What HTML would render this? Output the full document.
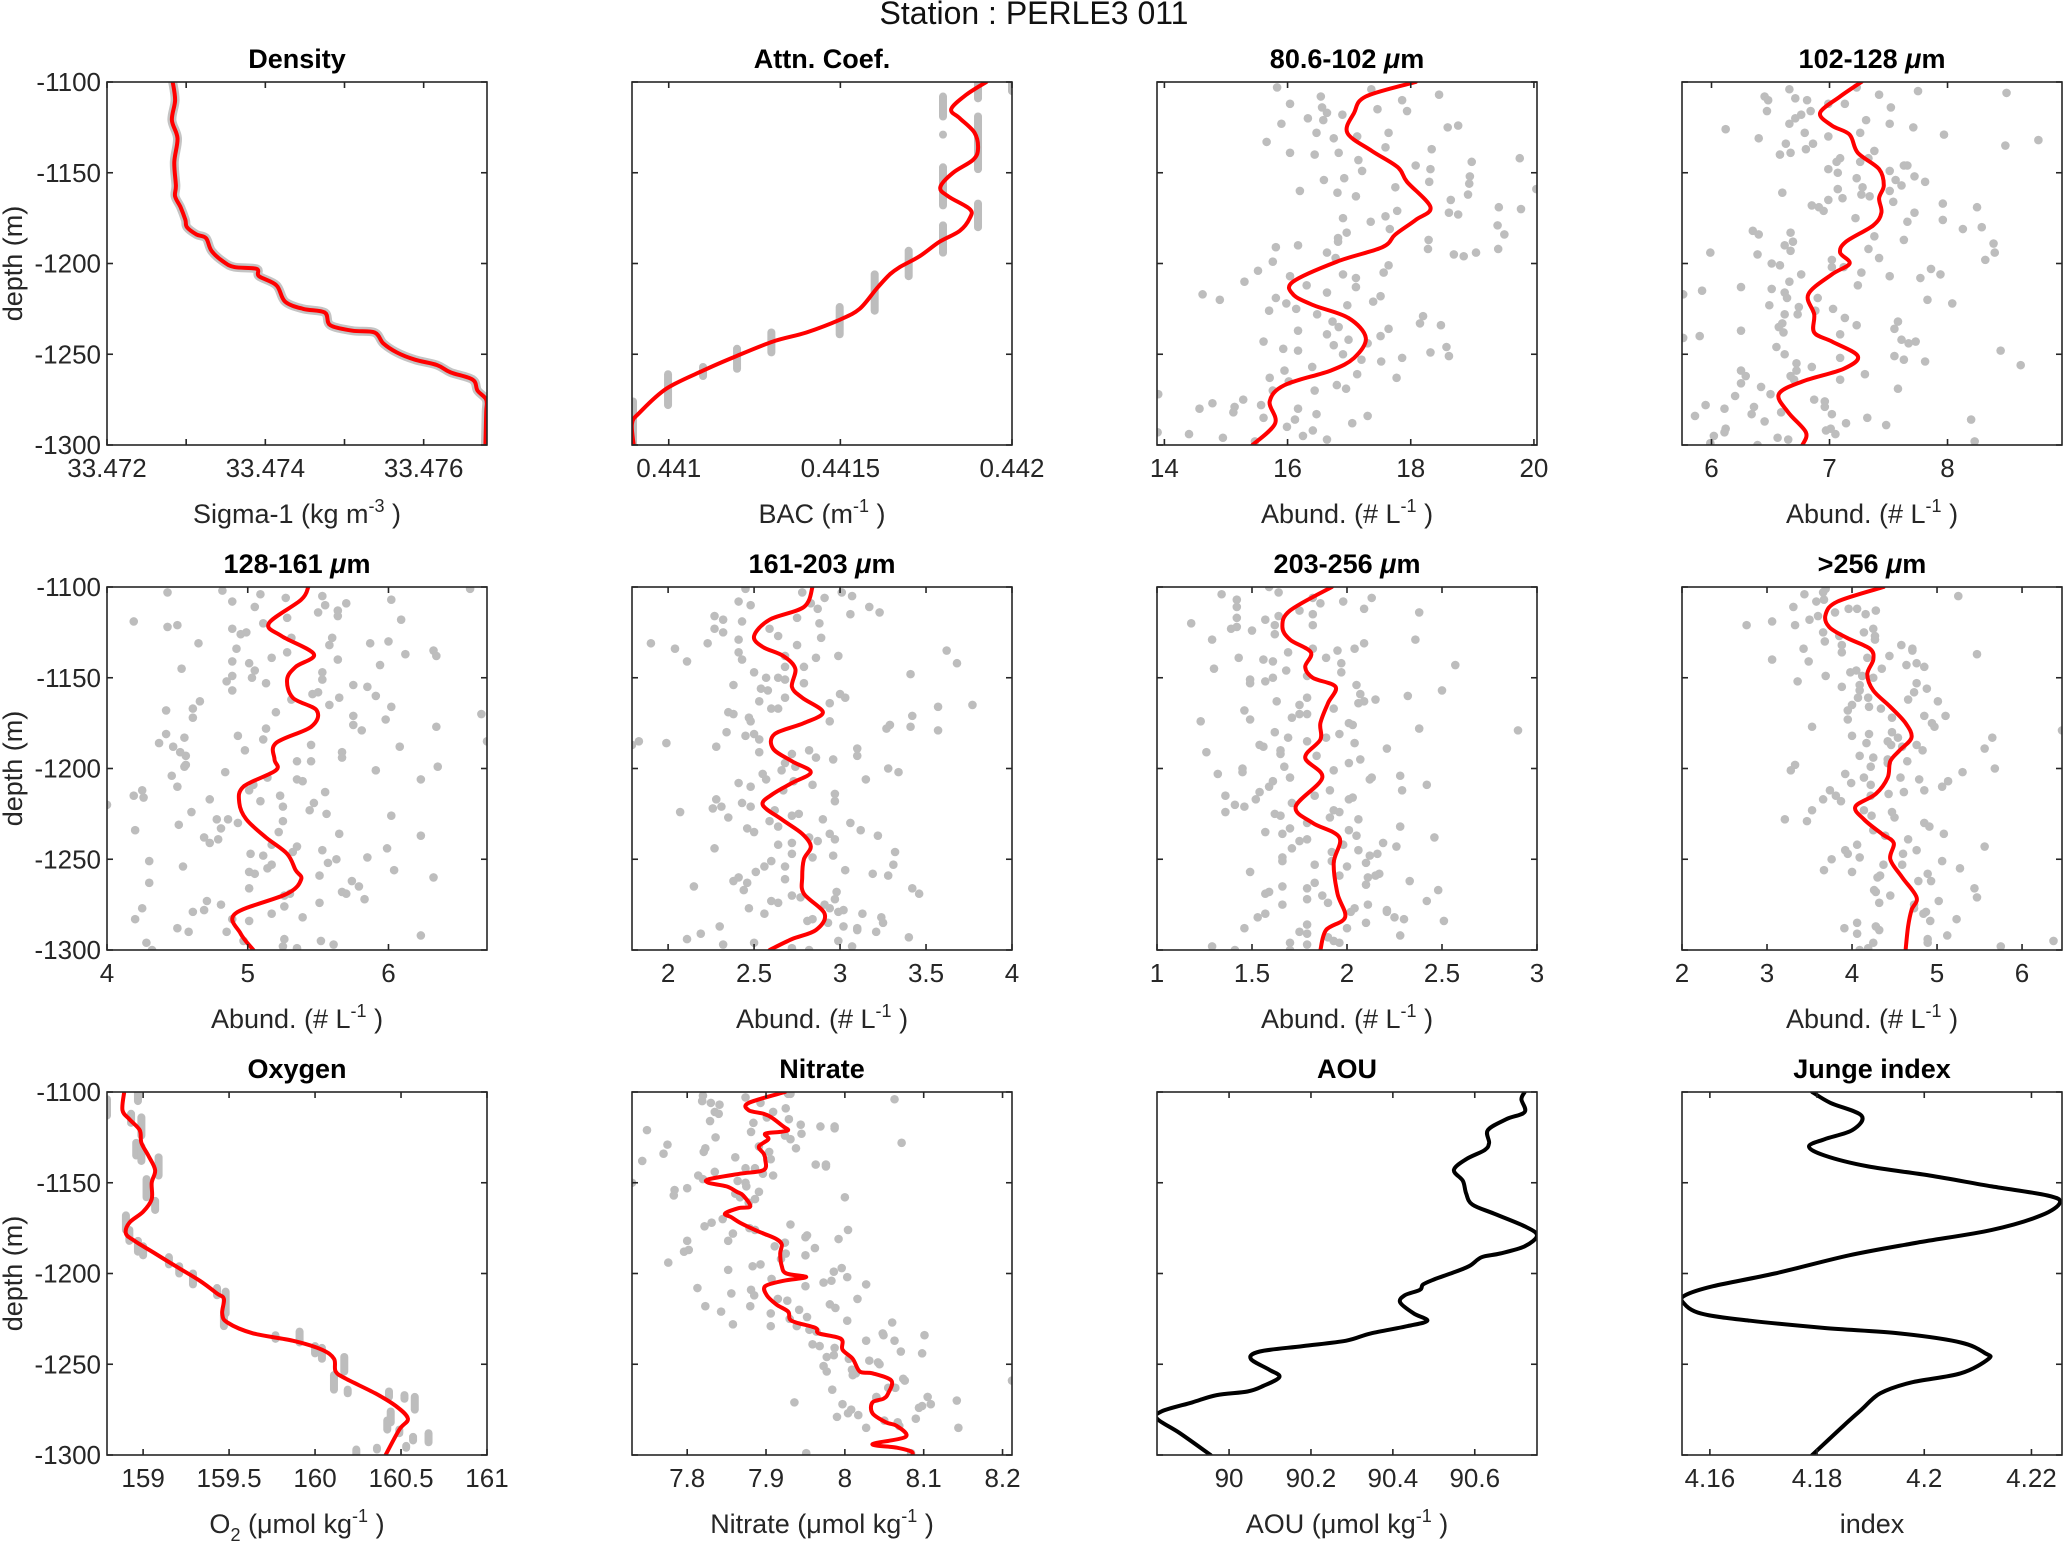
<!DOCTYPE html>
<html><head><meta charset="utf-8"><title>Station : PERLE3 011</title>
<style>html,body{margin:0;padding:0;background:#fff;}svg{display:block;font-family:"Liberation Sans",Arial,sans-serif;}</style>
</head><body>
<svg id="fig" width="2067" height="1547" viewBox="0 0 2067 1547" xmlns="http://www.w3.org/2000/svg">
<rect x="0" y="0" width="2067" height="1547" fill="#fff"/>
<text x="1034" y="24" font-size="32" text-anchor="middle" fill="#111">Station : PERLE3 011</text>
</svg>
<script>
// ---------- data ----------
const p1Depth=[-1100,-1110,-1121,-1131,-1144,-1157,-1163,-1169,-1176,-1180,-1184,-1186,-1193,-1199,-1202,-1203,-1207,-1212,-1221,-1225,-1227,-1234,-1237,-1238,-1244,-1249,-1253,-1256,-1260,-1264,-1270,-1275,-1282,-1300];
const p1Val=[33.47283,33.47286,33.47282,33.47289,33.47285,33.47287,33.47286,33.47293,33.47299,33.47301,33.47313,33.47325,33.47332,33.47347,33.47361,33.47389,33.47392,33.47414,33.47425,33.47448,33.47475,33.47482,33.47510,33.47538,33.47549,33.47566,33.47589,33.47617,33.47634,33.47662,33.47668,33.47679,33.47679,33.47678];

const p2Depth=[-1100,-1107,-1115,-1120,-1128,-1137,-1143,-1150,-1158,-1163,-1170,-1175,-1182,-1188,-1196,-1202,-1206,-1214,-1225,-1231,-1238,-1243,-1251,-1259,-1269,-1282,-1288,-1300];
const p2Val=[0.441925,0.441867,0.441823,0.441848,0.441891,0.441901,0.441886,0.441828,0.441791,0.441814,0.441877,0.441877,0.441848,0.441789,0.441731,0.441673,0.441644,0.441605,0.441556,0.441498,0.441401,0.441304,0.441197,0.441100,0.440993,0.440916,0.440893,0.440898];
const p2SegVal=[0.441901,0.442000,0.441799,0.441799,0.441901,0.441799,0.441901,0.441799,0.441699,0.441600,0.441498,0.441299,0.441199,0.441100,0.440998,0.440896];
const p2SegTop=[-1099,-1100,-1108,-1129,-1119,-1147,-1167,-1179,-1193,-1206,-1224,-1238,-1247,-1257,-1261,-1276];
const p2SegBot=[-1109,-1105,-1119,-1129,-1148,-1168,-1180,-1194,-1207,-1226,-1239,-1249,-1258,-1262,-1278,-1300];

const p3Depth=[-1100,-1108,-1117,-1128,-1138,-1147,-1155,-1169,-1176,-1184,-1191,-1199,-1210,-1217,-1223,-1230,-1241,-1252,-1259,-1267,-1276,-1288,-1300];
const p3Val=[18.08,17.27,17.08,16.97,17.37,17.79,17.94,18.32,18.08,17.75,17.54,16.80,16.09,16.09,16.42,16.99,17.27,17.08,16.70,15.95,15.71,15.80,15.43];
const p3DotV=[15.83,16.04,16.54,16.56,16.64,16.33,15.90,16.58,16.89,16.47,16.75,17.13,15.66,16.04,16.44,16.83,17.46,17.94,17.86,18.46,17.36,17.64,18.60,18.77,17.59,18.34,17.15,17.21,18.08,18.32,18.99,19.77,18.96,18.95,18.93,18.30,17.75,16.92,16.59,16.20,16.81,17.11,18.65,18.62,18.77,19.43,19.79,20.04,19.41,19.52,19.42,19.06,18.70,18.86,18.29,18.28,17.78,17.59,17.35,16.90,17.66,16.96,16.82,16.82,16.17,15.81,16.64,16.78,17.64,17.56,15.76,15.52,15.30,16.04,16.31,16.90,17.11,17.11,16.64,14.62,14.90,15.81,15.98,16.14,15.70,16.97,17.51,17.39,16.48,16.73,18.20,18.15,18.49,16.17,16.64,16.83,17.64,17.51,16.99,15.61,15.93,16.17,16.75,17.30,16.90,18.32,18.58,18.62,17.86,17.52,17.20,16.40,15.95,15.71,16.02,16.80,16.95,16.44,17.13,17.77,15.76,15.57,15.28,14.78,14.57,15.14,15.12,13.90,16.17,16.47,16.12,15.61,15.99,17.30,17.05,16.41,16.25,16.64,14.95,14.40,13.89,15.47];
const p3DotD=[-1103,-1112,-1108,-1114,-1117,-1120,-1123,-1121,-1118,-1128,-1131,-1130,-1133,-1139,-1140,-1139,-1115,-1116,-1110,-1107,-1104,-1128,-1125,-1124,-1136,-1137,-1143,-1149,-1146,-1148,-1144,-1142,-1152,-1156,-1162,-1155,-1158,-1153,-1154,-1160,-1161,-1163,-1165,-1172,-1173,-1169,-1170,-1159,-1179,-1184,-1192,-1194,-1195,-1196,-1187,-1192,-1171,-1174,-1177,-1175,-1181,-1183,-1186,-1188,-1190,-1191,-1194,-1197,-1201,-1205,-1199,-1204,-1210,-1207,-1212,-1206,-1208,-1213,-1216,-1217,-1220,-1219,-1222,-1225,-1226,-1223,-1218,-1221,-1228,-1232,-1229,-1233,-1234,-1237,-1239,-1235,-1236,-1240,-1242,-1243,-1247,-1248,-1245,-1244,-1250,-1249,-1246,-1251,-1252,-1254,-1253,-1257,-1259,-1263,-1265,-1267,-1269,-1270,-1261,-1263,-1270,-1278,-1275,-1277,-1280,-1279,-1282,-1272,-1280,-1283,-1286,-1285,-1290,-1284,-1288,-1292,-1295,-1297,-1296,-1294,-1293,-1298];

const p4Depth=[-1100,-1108,-1117,-1124,-1129,-1139,-1148,-1157,-1164,-1172,-1179,-1188,-1194,-1200,-1206,-1217,-1228,-1238,-1243,-1251,-1258,-1265,-1272,-1282,-1293,-1300];
const p4Val=[7.27,7.09,6.92,7.02,7.17,7.24,7.42,7.46,7.42,7.44,7.37,7.14,7.09,7.17,7.02,6.82,6.87,6.87,7.02,7.24,7.12,6.77,6.57,6.65,6.80,6.77];
const p4DotV=[6.66,6.45,6.48,6.71,6.81,6.47,6.99,7.13,7.23,7.42,7.75,8.50,7.52,6.84,6.76,6.71,6.66,7.31,7.51,7.71,6.12,6.79,6.99,7.26,7.97,6.40,6.63,6.86,6.80,6.58,6.67,7.38,8.49,8.77,7.09,7.06,6.99,7.07,7.26,7.33,7.63,7.66,7.51,7.72,7.23,7.56,7.81,7.61,7.07,7.28,7.51,7.27,6.60,6.99,7.11,7.34,7.54,6.85,6.91,6.95,7.96,8.25,7.72,7.22,7.66,7.96,8.13,8.29,6.35,6.40,6.67,6.69,6.62,6.67,7.38,7.63,7.33,7.42,8.39,8.40,8.32,5.99,6.39,6.51,6.58,7.02,7.02,7.12,7.27,6.76,6.66,7.24,7.51,7.77,7.86,7.94,6.25,6.51,5.92,5.76,6.62,6.64,6.90,6.49,6.74,6.88,7.03,7.83,8.04,6.62,6.73,6.60,6.57,6.61,7.13,7.23,7.58,7.55,7.09,6.25,5.76,5.90,7.61,7.67,7.73,6.55,6.62,7.09,7.55,7.63,7.81,8.45,8.62,6.72,6.85,6.72,6.25,6.29,6.25,6.67,6.70,7.09,7.30,6.42,6.50,6.20,7.58,6.87,6.96,6.96,5.95,6.11,6.36,6.34,6.59,5.86,7.02,7.32,6.45,7.14,7.48,8.20,6.12,6.11,6.02,6.97,7.01,7.05,6.56,6.65,5.99,6.39,8.23];
const p4DotD=[-1104,-1108,-1110,-1109,-1110,-1116,-1112,-1112,-1103,-1107,-1105,-1106,-1114,-1116,-1118,-1120,-1123,-1121,-1123,-1125,-1126,-1128,-1130,-1128,-1129,-1131,-1134,-1134,-1137,-1140,-1139,-1138,-1135,-1132,-1142,-1144,-1148,-1150,-1144,-1142,-1146,-1146,-1149,-1152,-1153,-1154,-1155,-1157,-1159,-1158,-1160,-1162,-1161,-1165,-1164,-1163,-1166,-1168,-1169,-1171,-1167,-1169,-1172,-1175,-1177,-1176,-1181,-1180,-1182,-1184,-1183,-1188,-1190,-1193,-1185,-1187,-1192,-1197,-1189,-1194,-1198,-1194,-1195,-1200,-1201,-1198,-1202,-1202,-1205,-1206,-1210,-1212,-1207,-1208,-1203,-1206,-1213,-1214,-1215,-1217,-1216,-1219,-1219,-1223,-1224,-1226,-1225,-1220,-1222,-1228,-1228,-1233,-1235,-1238,-1230,-1234,-1232,-1236,-1239,-1237,-1241,-1240,-1242,-1244,-1243,-1246,-1250,-1252,-1251,-1253,-1254,-1248,-1256,-1255,-1257,-1259,-1259,-1262,-1266,-1262,-1264,-1264,-1261,-1268,-1272,-1273,-1269,-1275,-1276,-1279,-1278,-1280,-1279,-1283,-1282,-1284,-1283,-1285,-1287,-1288,-1289,-1286,-1291,-1293,-1295,-1292,-1291,-1294,-1296,-1297,-1299,-1300,-1298];

const p5Depth=[-1100,-1107,-1120,-1127,-1137,-1144,-1151,-1161,-1168,-1177,-1186,-1195,-1201,-1210,-1219,-1228,-1238,-1247,-1256,-1261,-1269,-1280,-1291,-1300];
const p5Val=[5.43,5.38,5.15,5.24,5.47,5.34,5.28,5.32,5.49,5.45,5.20,5.19,5.20,4.97,4.94,4.99,5.13,5.28,5.34,5.38,5.28,4.91,4.95,5.04];
const p5DotV=[4.43,4.82,5.09,5.27,5.53,4.89,5.05,5.55,5.70,5.50,5.64,5.64,6.02,6.58,4.19,4.43,4.50,4.89,4.95,4.99,5.11,5.28,6.09,4.65,4.92,5.31,5.60,5.58,5.87,6.00,5.28,5.17,4.89,5.01,5.05,4.53,5.64,5.94,6.12,6.32,6.34,4.89,4.85,4.89,5.03,5.13,5.53,5.53,5.50,5.46,5.75,5.85,5.65,5.91,5.31,5.58,6.02,4.66,4.42,4.61,4.61,5.20,5.75,5.98,6.66,6.34,5.75,5.81,5.13,4.93,4.42,4.55,4.37,4.47,4.52,4.56,5.11,4.98,5.45,6.08,6.70,5.67,5.67,5.45,5.35,4.56,4.55,4.84,4.46,5.14,5.35,5.39,5.91,6.35,6.23,4.50,5.01,5.04,4.25,4.19,4.26,4.00,4.73,5.09,5.23,5.47,5.55,5.44,5.56,5.25,4.60,4.78,4.86,4.81,4.93,4.51,4.20,5.25,5.22,6.02,5.65,6.23,4.69,4.73,4.79,5.17,5.35,5.53,5.99,5.02,5.11,5.32,5.63,5.57,5.85,4.30,4.54,5.14,5.17,5.01,5.05,5.51,6.04,6.32,4.30,5.01,5.74,5.79,5.67,5.70,5.83,5.26,5.30,5.51,4.71,4.81,4.25,4.61,4.69,5.17,5.26,5.39,4.20,4.89,5.01,4.50,4.58,4.85,4.28,4.32,4.97,5.26,5.52,5.61,5.25,5.35,6.23];
const p5DotD=[-1103,-1102,-1104,-1106,-1105,-1108,-1111,-1110,-1109,-1114,-1113,-1116,-1107,-1101,-1119,-1122,-1121,-1123,-1126,-1125,-1120,-1117,-1118,-1131,-1134,-1128,-1128,-1132,-1131,-1130,-1136,-1139,-1141,-1142,-1146,-1145,-1140,-1143,-1137,-1135,-1138,-1149,-1152,-1157,-1150,-1153,-1147,-1151,-1158,-1159,-1154,-1155,-1161,-1160,-1162,-1165,-1166,-1163,-1168,-1167,-1172,-1169,-1171,-1173,-1170,-1177,-1176,-1179,-1178,-1182,-1181,-1183,-1186,-1188,-1191,-1193,-1184,-1190,-1187,-1188,-1185,-1191,-1194,-1196,-1196,-1198,-1199,-1202,-1204,-1205,-1206,-1207,-1201,-1199,-1206,-1210,-1212,-1209,-1212,-1215,-1216,-1220,-1217,-1218,-1215,-1219,-1213,-1223,-1225,-1221,-1224,-1228,-1228,-1233,-1230,-1231,-1234,-1229,-1235,-1226,-1236,-1237,-1238,-1241,-1239,-1242,-1243,-1245,-1244,-1247,-1248,-1246,-1250,-1252,-1249,-1251,-1254,-1255,-1253,-1257,-1258,-1259,-1256,-1260,-1263,-1266,-1262,-1265,-1268,-1269,-1272,-1270,-1269,-1274,-1273,-1275,-1277,-1279,-1278,-1280,-1276,-1282,-1283,-1283,-1284,-1288,-1290,-1290,-1296,-1300,-1295,-1294,-1295,-1297,-1298,-1299,-1292];

const p6Depth=[-1100,-1111,-1118,-1127,-1133,-1138,-1145,-1155,-1161,-1169,-1175,-1181,-1189,-1196,-1202,-1208,-1214,-1220,-1228,-1236,-1243,-1250,-1260,-1269,-1280,-1289,-1294,-1300];
const p6Val=[2.84,2.79,2.59,2.50,2.55,2.67,2.74,2.72,2.78,2.90,2.79,2.62,2.61,2.72,2.83,2.72,2.61,2.55,2.66,2.78,2.83,2.79,2.78,2.79,2.91,2.86,2.72,2.59];
const p6DotV=[2.45,2.78,3.01,3.07,2.91,2.41,2.48,2.83,2.87,3.17,3.23,3.06,2.27,2.32,2.43,2.75,2.88,2.27,2.32,2.59,2.64,2.23,1.90,2.04,2.41,2.89,2.75,2.41,2.43,2.11,2.68,2.86,2.99,3.62,3.68,2.68,2.79,2.50,2.57,2.64,2.68,2.79,3.41,2.38,2.54,2.58,2.68,2.53,2.60,2.64,2.94,3.00,3.03,3.57,3.77,2.35,2.38,2.47,2.48,2.94,3.42,3.41,3.29,3.27,3.57,2.34,2.45,2.50,2.53,1.79,1.83,1.99,2.28,2.53,2.72,2.82,2.86,3.10,3.10,2.96,2.68,2.66,2.74,2.55,2.57,2.41,2.48,2.67,2.73,2.84,3.15,3.28,3.34,2.97,2.97,2.28,2.26,2.31,2.07,2.43,2.48,2.62,2.72,2.76,2.35,2.59,2.64,2.90,3.06,3.12,2.46,2.50,2.82,2.94,2.87,2.97,3.22,2.27,2.64,2.72,2.72,2.84,2.96,3.32,2.60,2.56,2.51,2.68,3.03,3.19,3.28,3.31,2.41,2.38,2.46,2.68,2.15,2.44,2.72,2.77,2.98,3.42,3.46,2.60,2.64,2.47,2.56,2.91,2.94,2.97,2.99,3.02,3.13,3.24,3.25,2.81,2.84,2.93,3.02,3.10,3.10,3.21,2.30,2.19,2.11,2.32,2.50,2.99,2.72,2.82,3.07,3.40];
const p6DotD=[-1101,-1103,-1103,-1105,-1106,-1108,-1110,-1109,-1112,-1111,-1114,-1115,-1116,-1118,-1119,-1117,-1120,-1123,-1125,-1123,-1127,-1131,-1131,-1134,-1129,-1128,-1132,-1136,-1140,-1141,-1138,-1139,-1138,-1135,-1142,-1144,-1144,-1147,-1150,-1150,-1151,-1153,-1148,-1154,-1156,-1157,-1161,-1163,-1167,-1167,-1164,-1159,-1161,-1166,-1165,-1169,-1170,-1172,-1174,-1174,-1171,-1177,-1176,-1178,-1179,-1180,-1182,-1181,-1184,-1187,-1185,-1186,-1188,-1191,-1192,-1190,-1194,-1189,-1193,-1195,-1197,-1201,-1199,-1203,-1206,-1208,-1210,-1212,-1207,-1209,-1206,-1200,-1202,-1214,-1218,-1217,-1222,-1221,-1224,-1219,-1221,-1223,-1226,-1225,-1227,-1229,-1232,-1228,-1230,-1234,-1233,-1235,-1238,-1236,-1240,-1239,-1237,-1244,-1242,-1241,-1247,-1249,-1248,-1246,-1251,-1254,-1257,-1254,-1256,-1258,-1259,-1253,-1260,-1262,-1263,-1261,-1265,-1267,-1270,-1271,-1268,-1266,-1269,-1273,-1274,-1277,-1280,-1275,-1277,-1272,-1279,-1278,-1280,-1282,-1285,-1284,-1283,-1285,-1287,-1288,-1289,-1290,-1287,-1291,-1294,-1297,-1296,-1295,-1299,-1300,-1298,-1293];

const p7Depth=[-1100,-1113,-1122,-1129,-1136,-1144,-1150,-1155,-1164,-1175,-1184,-1194,-1205,-1221,-1230,-1238,-1252,-1269,-1282,-1289,-1300];
const p7Val=[1.92,1.70,1.66,1.70,1.81,1.78,1.82,1.94,1.90,1.86,1.86,1.78,1.87,1.73,1.82,1.96,1.93,1.95,1.99,1.89,1.86];
const p7DotV=[1.59,1.34,1.64,1.42,1.42,1.42,1.82,1.86,1.98,2.13,2.09,2.38,1.75,1.82,1.64,1.57,1.18,1.39,1.42,1.50,1.62,1.62,1.82,1.29,2.36,2.09,2.04,1.95,1.82,1.69,1.43,1.56,1.61,1.89,1.97,1.97,1.68,1.30,2.57,1.79,1.49,1.49,1.57,1.61,2.05,2.07,2.15,2.32,2.50,1.79,1.63,1.75,1.46,1.49,1.23,1.71,1.75,1.79,1.93,2.06,2.09,2.01,2.03,1.62,1.69,1.79,1.89,1.96,2.04,2.38,2.90,1.54,1.56,1.65,1.65,1.26,1.84,2.07,2.01,2.21,1.67,1.45,1.45,1.32,1.70,1.93,2.12,2.13,2.28,2.42,1.61,1.59,1.54,1.52,1.36,1.91,1.83,2.29,2.01,2.03,1.71,1.41,1.46,1.36,1.62,1.65,1.93,1.96,1.91,2.06,1.79,1.70,1.66,1.57,2.01,2.05,2.28,2.46,1.79,1.75,1.71,1.66,1.66,1.92,1.98,2.06,2.19,2.26,2.16,2.12,2.10,1.83,1.92,2.00,1.49,1.96,1.83,1.79,2.11,2.15,2.17,2.10,2.33,2.48,1.66,1.57,1.59,1.87,1.79,1.90,1.66,2.42,2.11,2.04,2.02,2.21,2.21,2.25,2.30,2.10,2.51,1.57,1.53,1.46,1.79,1.75,1.79,2.00,1.90,1.93,1.96,2.28,1.70,1.70,1.79,1.29,1.41];
const p7DotD=[-1100,-1104,-1103,-1107,-1111,-1117,-1106,-1109,-1108,-1106,-1112,-1114,-1113,-1115,-1116,-1118,-1120,-1123,-1122,-1124,-1121,-1126,-1121,-1129,-1129,-1131,-1134,-1135,-1134,-1136,-1139,-1140,-1141,-1139,-1142,-1147,-1146,-1145,-1143,-1149,-1151,-1153,-1152,-1150,-1154,-1159,-1162,-1160,-1157,-1161,-1163,-1165,-1168,-1173,-1174,-1172,-1170,-1170,-1167,-1164,-1163,-1175,-1176,-1180,-1183,-1185,-1183,-1181,-1186,-1178,-1179,-1187,-1188,-1190,-1192,-1191,-1193,-1195,-1197,-1189,-1199,-1200,-1202,-1203,-1205,-1201,-1206,-1205,-1204,-1209,-1207,-1210,-1213,-1217,-1215,-1212,-1215,-1212,-1217,-1216,-1219,-1220,-1221,-1224,-1225,-1226,-1223,-1224,-1227,-1228,-1230,-1233,-1236,-1235,-1234,-1237,-1232,-1238,-1239,-1240,-1244,-1249,-1251,-1246,-1242,-1245,-1241,-1243,-1247,-1248,-1252,-1253,-1251,-1254,-1257,-1259,-1263,-1266,-1260,-1259,-1258,-1264,-1262,-1267,-1265,-1269,-1268,-1270,-1272,-1274,-1275,-1273,-1275,-1277,-1279,-1278,-1279,-1282,-1283,-1285,-1284,-1280,-1282,-1288,-1286,-1290,-1291,-1288,-1293,-1295,-1296,-1292,-1296,-1300,-1297,-1298,-1300];

const p8Depth=[-1100,-1108,-1115,-1122,-1128,-1134,-1140,-1148,-1157,-1166,-1175,-1183,-1190,-1196,-1205,-1214,-1221,-1228,-1236,-1241,-1250,-1260,-1271,-1278,-1287,-1300];
const p8Val=[4.37,3.83,3.69,3.73,3.94,4.21,4.25,4.18,4.25,4.45,4.63,4.70,4.56,4.45,4.42,4.28,4.04,4.14,4.35,4.49,4.45,4.59,4.76,4.70,4.66,4.63];
const p8DotV=[3.69,3.66,3.44,3.58,3.67,5.25,3.31,3.96,4.06,4.28,4.16,3.80,3.60,3.50,3.06,3.33,2.76,3.66,3.85,4.14,4.25,4.27,4.27,3.68,3.88,3.43,3.88,4.58,4.71,4.71,5.47,3.06,3.49,4.18,4.44,4.64,4.76,4.85,4.35,3.98,4.05,4.12,3.69,4.25,3.36,3.88,4.09,4.09,4.76,4.88,4.73,4.66,5.01,4.07,4.19,4.00,3.95,4.20,4.34,3.95,4.47,4.85,4.94,4.97,5.10,3.53,4.00,4.20,4.47,4.54,4.17,4.42,4.46,4.59,4.76,4.83,5.65,5.56,4.09,4.25,4.42,4.42,4.65,4.22,3.33,3.28,3.92,3.99,4.14,4.22,4.57,4.79,5.06,5.13,5.30,5.68,3.74,3.81,3.66,3.87,4.22,4.43,4.61,4.85,3.53,3.47,3.21,4.14,4.23,4.47,4.50,4.25,4.39,4.66,4.85,4.91,5.08,4.06,3.92,3.95,3.76,4.09,4.60,4.76,5.56,4.37,4.59,5.06,3.67,4.00,5.27,4.30,4.33,4.78,4.89,4.93,5.44,5.47,4.26,4.28,4.45,4.32,4.73,5.02,4.73,4.87,4.92,4.84,5.23,4.06,4.28,3.91,4.32,4.06,5.12,4.25,4.19,4.09,4.89,4.89,5.75,6.37,6.47];
const p8DotD=[-1101,-1103,-1104,-1108,-1107,-1105,-1111,-1112,-1112,-1113,-1115,-1114,-1116,-1118,-1119,-1121,-1121,-1125,-1127,-1125,-1123,-1127,-1129,-1130,-1132,-1134,-1136,-1132,-1134,-1135,-1137,-1140,-1141,-1139,-1138,-1143,-1142,-1144,-1145,-1147,-1146,-1149,-1149,-1150,-1152,-1155,-1154,-1157,-1153,-1156,-1158,-1162,-1163,-1161,-1161,-1165,-1168,-1166,-1167,-1173,-1172,-1171,-1175,-1177,-1171,-1177,-1182,-1181,-1180,-1183,-1186,-1185,-1187,-1188,-1187,-1190,-1183,-1189,-1193,-1194,-1195,-1197,-1196,-1199,-1198,-1201,-1203,-1208,-1205,-1209,-1205,-1206,-1210,-1207,-1202,-1200,-1212,-1215,-1217,-1218,-1215,-1214,-1213,-1212,-1223,-1229,-1228,-1223,-1226,-1224,-1227,-1234,-1237,-1239,-1230,-1232,-1236,-1242,-1245,-1247,-1250,-1249,-1247,-1245,-1243,-1253,-1253,-1251,-1256,-1257,-1255,-1260,-1259,-1262,-1258,-1262,-1266,-1271,-1267,-1268,-1270,-1274,-1275,-1273,-1277,-1279,-1284,-1280,-1283,-1285,-1287,-1288,-1289,-1291,-1292,-1296,-1299,-1300,-1294,-1296,-1298,-1295,-1179];

const o2Depth=[-1100,-1110,-1115,-1121,-1128,-1135,-1143,-1150,-1159,-1166,-1172,-1178,-1182,-1189,-1196,-1204,-1211,-1214,-1222,-1227,-1233,-1237,-1242,-1247,-1254,-1258,-1266,-1273,-1280,-1286,-1300];
const o2Val=[158.89,158.88,158.92,158.98,158.99,159.03,159.07,159.05,159.05,159.00,158.92,158.90,158.95,159.07,159.19,159.33,159.43,159.47,159.46,159.49,159.64,159.87,160.04,160.11,160.12,160.18,160.35,160.47,160.54,160.49,160.41];
const o2SegVal=[158.97,158.79,158.93,158.99,158.96,158.99,159.09,159.02,159.07,158.90,158.92,158.97,159.00,159.15,159.21,159.29,159.43,159.48,159.47,159.77,159.91,160.00,160.04,160.17,160.11,160.19,160.43,160.52,160.58,160.44,160.42,160.49,160.57,160.66,160.53,160.36,160.24];
const o2SegTop=[-1100,-1104,-1112,-1114,-1128,-1130,-1136,-1148,-1160,-1168,-1176,-1182,-1185,-1191,-1196,-1200,-1208,-1210,-1223,-1234,-1232,-1240,-1241,-1246,-1256,-1264,-1265,-1267,-1268,-1276,-1281,-1286,-1290,-1288,-1295,-1296,-1297];
const o2SegBot=[-1105,-1113,-1117,-1124,-1135,-1138,-1146,-1158,-1165,-1176,-1182,-1188,-1190,-1195,-1200,-1206,-1212,-1222,-1229,-1236,-1238,-1244,-1247,-1254,-1264,-1266,-1268,-1269,-1275,-1282,-1286,-1288,-1292,-1293,-1296,-1297,-1300];

const no3Depth=[-1100,-1106,-1110,-1112,-1114,-1119,-1121,-1122,-1123,-1126,-1130,-1134,-1137,-1143,-1145,-1148,-1150,-1152,-1155,-1157,-1163,-1164,-1167,-1169,-1172,-1176,-1178,-1181,-1184,-1189,-1196,-1200,-1202,-1204,-1207,-1212,-1217,-1221,-1225,-1227,-1230,-1233,-1236,-1242,-1247,-1254,-1255,-1259,-1266,-1269,-1271,-1277,-1282,-1284,-1290,-1294,-1296,-1298,-1300];
const no3Val=[7.924,7.878,7.878,7.897,7.907,7.922,7.928,7.918,7.899,7.903,7.891,7.897,7.899,7.897,7.867,7.828,7.827,7.850,7.863,7.871,7.880,7.865,7.848,7.856,7.867,7.886,7.897,7.913,7.920,7.918,7.920,7.926,7.951,7.922,7.899,7.901,7.913,7.928,7.930,7.938,7.963,7.967,7.995,7.997,8.010,8.019,8.035,8.059,8.055,8.049,8.035,8.035,8.052,8.066,8.077,8.035,8.066,8.084,8.086];
const no3DotV=[7.820,7.819,7.830,7.841,7.874,7.893,7.928,7.931,8.063,7.835,7.840,7.909,7.925,7.901,7.829,7.884,7.929,7.944,7.749,7.881,7.945,7.969,7.987,7.987,7.836,7.924,7.931,7.775,7.823,7.821,7.891,7.904,7.938,8.072,7.770,7.743,7.861,7.906,7.963,7.976,7.976,7.874,7.886,7.835,7.814,7.909,7.896,7.730,7.820,7.864,7.874,7.875,7.784,7.783,7.800,7.891,7.861,7.867,7.886,8.000,7.878,7.845,7.822,7.831,7.931,7.858,7.852,7.879,7.886,7.952,7.950,7.992,8.004,7.800,7.802,7.796,7.911,7.924,7.925,7.950,7.962,7.919,7.776,7.852,7.883,7.893,7.986,7.996,8.003,7.907,7.950,7.973,7.983,8.027,7.813,7.881,7.885,7.856,8.016,7.915,7.927,7.823,7.880,7.981,7.988,7.942,7.843,7.906,7.952,7.930,8.003,8.060,7.858,7.906,7.939,7.955,7.964,8.048,8.049,8.101,8.027,8.063,7.959,7.968,7.987,8.071,8.098,7.977,7.986,8.005,8.031,8.042,8.044,7.973,7.977,8.009,8.010,8.014,8.074,8.076,8.212,7.984,8.055,8.064,8.040,8.040,8.105,8.109,8.142,7.936,7.997,8.004,8.008,7.990,8.017,8.094,8.098,8.090,8.050,8.067,8.069,8.027,8.144,7.951,8.084];
const no3DotD=[-1102,-1105,-1106,-1107,-1103,-1106,-1101,-1101,-1104,-1111,-1112,-1111,-1109,-1114,-1116,-1117,-1115,-1118,-1121,-1122,-1123,-1119,-1119,-1120,-1125,-1124,-1126,-1129,-1131,-1133,-1130,-1133,-1131,-1128,-1134,-1138,-1136,-1137,-1140,-1140,-1141,-1142,-1142,-1144,-1146,-1146,-1145,-1150,-1148,-1149,-1150,-1152,-1154,-1157,-1153,-1155,-1156,-1158,-1159,-1158,-1161,-1170,-1174,-1172,-1173,-1178,-1182,-1175,-1176,-1179,-1180,-1181,-1176,-1182,-1187,-1188,-1185,-1183,-1189,-1190,-1186,-1192,-1194,-1198,-1196,-1195,-1199,-1197,-1202,-1203,-1207,-1205,-1204,-1206,-1208,-1209,-1212,-1211,-1214,-1214,-1215,-1218,-1218,-1217,-1219,-1220,-1221,-1222,-1224,-1225,-1226,-1227,-1228,-1229,-1229,-1231,-1232,-1233,-1234,-1234,-1237,-1237,-1239,-1240,-1241,-1243,-1244,-1246,-1245,-1247,-1248,-1249,-1250,-1251,-1254,-1253,-1256,-1255,-1258,-1259,-1259,-1264,-1263,-1263,-1268,-1269,-1268,-1272,-1270,-1271,-1272,-1277,-1275,-1279,-1278,-1274,-1273,-1280,-1281,-1282,-1284,-1285,-1285,-1299,-1299];

const aouDepth=[-1100,-1104,-1111,-1115,-1121,-1128,-1132,-1137,-1143,-1149,-1156,-1162,-1167,-1174,-1179,-1185,-1189,-1191,-1196,-1200,-1203,-1206,-1209,-1212,-1216,-1222,-1226,-1229,-1233,-1237,-1240,-1243,-1247,-1253,-1257,-1262,-1265,-1267,-1271,-1276,-1280,-1288,-1300];
const aouVal=[90.722,90.714,90.722,90.677,90.632,90.635,90.624,90.579,90.549,90.571,90.579,90.594,90.647,90.722,90.752,90.722,90.662,90.617,90.586,90.541,90.504,90.474,90.466,90.429,90.418,90.451,90.484,90.436,90.346,90.286,90.180,90.075,90.053,90.098,90.123,90.083,90.045,89.970,89.910,89.835,89.824,89.880,89.955];

const jDepth=[-1100,-1106,-1113,-1121,-1126,-1130,-1135,-1141,-1146,-1152,-1157,-1161,-1168,-1176,-1183,-1190,-1200,-1207,-1212,-1216,-1222,-1226,-1230,-1233,-1238,-1244,-1247,-1255,-1260,-1266,-1275,-1284,-1300];
const jVal=[4.1791,4.1825,4.1883,4.1866,4.1814,4.1785,4.1814,4.1895,4.2010,4.2126,4.2230,4.2253,4.2218,4.2126,4.1987,4.1860,4.1721,4.1606,4.1554,4.1550,4.1583,4.1675,4.1814,4.1953,4.2068,4.2114,4.2120,4.2068,4.1976,4.1918,4.1883,4.1849,4.1791];

const depthTicks=[-1100,-1150,-1200,-1250,-1300];
const depthTickLabels=["-1100","-1150","-1200","-1250","-1300"];

// ---------- drawing ----------
const NS='http://www.w3.org/2000/svg';
const svg=document.getElementById('fig');
function mk(tag,attrs,parent){const e=document.createElementNS(NS,tag);for(const k in attrs)e.setAttribute(k,attrs[k]);(parent||svg).appendChild(e);return e;}
const COLX=[107,632,1157,1682],ROWY=[82,587,1092],PW=380,PH=363;
const AX='#262626';

function panel(cfg){
  const x0=COLX[cfg.col],y0=ROWY[cfg.row];
  const g=mk('g',{});
  
  
  const sx=v=>x0+(v-cfg.xmin)/(cfg.xmax-cfg.xmin)*PW;
  const sy=d=>y0+(-1100-d)/200*PH;
  const cid='clip-'+cfg.name;
  const cp=mk('clipPath',{id:cid},g);
  mk('rect',{x:x0,y:y0,width:PW,height:PH},cp);
  const plot=mk('g',{'clip-path':'url(#'+cid+')'},g);
  
  
  // frame
  const fr=mk('rect',{x:x0,y:y0,width:PW,height:PH,fill:'none',stroke:AX,'stroke-width':1.6},g);
  
  
  // y ticks
  depthTicks.forEach((d,i)=>{
    const y=sy(d);
    const t1=mk('line',{x1:x0,x2:x0+6,y1:y,y2:y,stroke:AX,'stroke-width':1.6},g);
    
    
    const t2=mk('line',{x1:x0+PW-6,x2:x0+PW,y1:y,y2:y,stroke:AX,'stroke-width':1.6},g);
    
    
    if(cfg.col===0){
      const tl=mk('text',{x:x0-6,y:y+9,'font-size':26,'text-anchor':'end',fill:AX},g);
      
      
      tl.textContent=depthTickLabels[i];
    }
  });
  cfg.xticks.forEach(v=>{
    const x=sx(v);
    const t1=mk('line',{x1:x,x2:x,y1:y0+PH,y2:y0+PH-6,stroke:AX,'stroke-width':1.6},g);
    
    
    const t2=mk('line',{x1:x,x2:x,y1:y0,y2:y0+6,stroke:AX,'stroke-width':1.6},g);
    
    
  });
  cfg.xlabels.forEach((lab,i)=>{
    const t=mk('text',{x:sx(cfg.xlabelVals[i]),y:y0+PH+32,'font-size':26,'text-anchor':'middle',fill:AX},g);
    
    
    t.textContent=lab;
  });
  // title
  const tt=mk('text',{x:x0+PW/2,y:y0-14,'font-size':27,'font-weight':'bold','text-anchor':'middle',fill:'#000'},g);
  
  
  tt.innerHTML=cfg.title;
  // x label
  const xl=mk('text',{x:x0+PW/2,y:y0+PH+78,'font-size':27,'text-anchor':'middle',fill:AX},g);
  
  
  xl.innerHTML=cfg.xlabel;
  if(cfg.col===0){
    const cy=y0+PH/2;
    const yl=mk('text',{x:0,y:0,'font-size':27,'text-anchor':'middle',fill:AX,transform:'translate(22,'+cy+') rotate(-90)'},g);
    
    
    yl.textContent='depth (m)';
  }
  return {sx,sy,plot};
}

function curvePath(pts){
  let d='M'+pts[0][0].toFixed(1)+','+pts[0][1].toFixed(1);
  for(let i=0;i<pts.length-1;i++){
    const p0=pts[i-1]||pts[i],p1=pts[i],p2=pts[i+1],p3=pts[i+2]||pts[i+1];
    const c1=[p1[0]+(p2[0]-p0[0])/6,p1[1]+(p2[1]-p0[1])/6];
    const c2=[p2[0]-(p3[0]-p1[0])/6,p2[1]-(p3[1]-p1[1])/6];
    d+='C'+c1[0].toFixed(1)+','+c1[1].toFixed(1)+' '+c2[0].toFixed(1)+','+c2[1].toFixed(1)+' '+p2[0].toFixed(1)+','+p2[1].toFixed(1);
  }
  return d;
}
function drawCurve(P,vals,depths,color,w,name){
  const pts=vals.map((v,i)=>[P.sx(v),P.sy(depths[i])]);
  const p=mk('path',{d:curvePath(pts),fill:'none',stroke:color,'stroke-width':w,'stroke-linejoin':'round','stroke-linecap':'round'},P.plot);
  
  
}
function drawDots(P,vals,depths,name){
  vals.forEach((v,i)=>{
    const c=mk('circle',{cx:P.sx(v),cy:P.sy(depths[i]),r:4.3,fill:'#bdbdbd'},P.plot);
    
    
  });
}
function drawSegs(P,vals,tops,bots,name){
  vals.forEach((v,i)=>{
    const l=mk('line',{x1:P.sx(v),x2:P.sx(v),y1:P.sy(tops[i]),y2:P.sy(bots[i]),stroke:'#bdbdbd','stroke-width':8,'stroke-linecap':'round'},P.plot);
    
    
  });
}
const MU='<tspan font-style="italic">&#956;</tspan>';
const abund='Abund. (# L<tspan font-size="18" dy="-11">-1</tspan><tspan dy="11"> )</tspan>';
const umolkg='(&#956;mol kg<tspan font-size="18" dy="-11">-1</tspan><tspan dy="11"> )</tspan>';

let P;
P=panel({name:'density',col:0,row:0,xmin:33.472,xmax:33.4768,xticks:[33.472,33.473,33.474,33.475,33.476],xlabels:['33.472','33.474','33.476'],xlabelVals:[33.472,33.474,33.476],title:'Density',xlabel:'Sigma-1 (kg m<tspan font-size="18" dy="-11">-3</tspan><tspan dy="11"> )</tspan>'});
drawCurve(P,p1Val,p1Depth,'#c4c4c4',9,'density-data');
drawCurve(P,p1Val,p1Depth,'#ff0000',4,'density-smooth-line');

P=panel({name:'attn-coef',col:1,row:0,xmin:0.440893,xmax:0.442,xticks:[0.441,0.4415,0.442],xlabels:['0.441','0.4415','0.442'],xlabelVals:[0.441,0.4415,0.442],title:'Attn. Coef.',xlabel:'BAC (m<tspan font-size="18" dy="-11">-1</tspan><tspan dy="11"> )</tspan>'});
drawSegs(P,p2SegVal,p2SegTop,p2SegBot,'bac-data');
drawCurve(P,p2Val,p2Depth,'#ff0000',4,'bac-smooth-line');

P=panel({name:'size-80-102',col:2,row:0,xmin:13.88,xmax:20.05,xticks:[14,16,18,20],xlabels:['14','16','18','20'],xlabelVals:[14,16,18,20],title:'80.6-102 '+MU+'m',xlabel:abund});
drawDots(P,p3DotV,p3DotD,'abundance-point');
drawCurve(P,p3Val,p3Depth,'#ff0000',4,'size-80-102-smooth-line');

P=panel({name:'size-102-128',col:3,row:0,xmin:5.75,xmax:8.97,xticks:[6,7,8],xlabels:['6','7','8'],xlabelVals:[6,7,8],title:'102-128 '+MU+'m',xlabel:abund});
drawDots(P,p4DotV,p4DotD,'abundance-point');
drawCurve(P,p4Val,p4Depth,'#ff0000',4,'size-102-128-smooth-line');

P=panel({name:'size-128-161',col:0,row:1,xmin:4,xmax:6.7,xticks:[4,5,6],xlabels:['4','5','6'],xlabelVals:[4,5,6],title:'128-161 '+MU+'m',xlabel:abund});
drawDots(P,p5DotV,p5DotD,'abundance-point');
drawCurve(P,p5Val,p5Depth,'#ff0000',4,'size-128-161-smooth-line');

P=panel({name:'size-161-203',col:1,row:1,xmin:1.79,xmax:4.0,xticks:[2,2.5,3,3.5,4],xlabels:['2','2.5','3','3.5','4'],xlabelVals:[2,2.5,3,3.5,4],title:'161-203 '+MU+'m',xlabel:abund});
drawDots(P,p6DotV,p6DotD,'abundance-point');
drawCurve(P,p6Val,p6Depth,'#ff0000',4,'size-161-203-smooth-line');

P=panel({name:'size-203-256',col:2,row:1,xmin:1,xmax:3,xticks:[1,1.5,2,2.5,3],xlabels:['1','1.5','2','2.5','3'],xlabelVals:[1,1.5,2,2.5,3],title:'203-256 '+MU+'m',xlabel:abund});
drawDots(P,p7DotV,p7DotD,'abundance-point');
drawCurve(P,p7Val,p7Depth,'#ff0000',4,'size-203-256-smooth-line');

P=panel({name:'size-over-256',col:3,row:1,xmin:2,xmax:6.47,xticks:[2,3,4,5,6],xlabels:['2','3','4','5','6'],xlabelVals:[2,3,4,5,6],title:'&gt;256 '+MU+'m',xlabel:abund});
drawDots(P,p8DotV,p8DotD,'abundance-point');
drawCurve(P,p8Val,p8Depth,'#ff0000',4,'size-over-256-smooth-line');

P=panel({name:'oxygen',col:0,row:2,xmin:158.79,xmax:161,xticks:[159,159.5,160,160.5,161],xlabels:['159','159.5','160','160.5','161'],xlabelVals:[159,159.5,160,160.5,161],title:'Oxygen',xlabel:'O<tspan font-size="18" dy="8">2</tspan><tspan dy="-8"> </tspan>'+umolkg});
drawSegs(P,o2SegVal,o2SegTop,o2SegBot,'oxygen-data');
drawCurve(P,o2Val,o2Depth,'#ff0000',4,'oxygen-smooth-line');

P=panel({name:'nitrate',col:1,row:2,xmin:7.730,xmax:8.212,xticks:[7.8,7.9,8,8.1,8.2],xlabels:['7.8','7.9','8','8.1','8.2'],xlabelVals:[7.8,7.9,8,8.1,8.2],title:'Nitrate',xlabel:'Nitrate '+umolkg});
drawDots(P,no3DotV,no3DotD,'nitrate-point');
drawCurve(P,no3Val,no3Depth,'#ff0000',4,'nitrate-smooth-line');

P=panel({name:'aou',col:2,row:2,xmin:89.824,xmax:90.752,xticks:[90,90.2,90.4,90.6],xlabels:['90','90.2','90.4','90.6'],xlabelVals:[90,90.2,90.4,90.6],title:'AOU',xlabel:'AOU '+umolkg});
drawCurve(P,aouVal,aouDepth,'#000000',4,'aou-line');

P=panel({name:'junge-index',col:3,row:2,xmin:4.1548,xmax:4.2257,xticks:[4.16,4.18,4.2,4.22],xlabels:['4.16','4.18','4.2','4.22'],xlabelVals:[4.16,4.18,4.2,4.22],title:'Junge index',xlabel:'index'});
drawCurve(P,jVal,jDepth,'#000000',4,'junge-index-line');
</script>
</body></html>
